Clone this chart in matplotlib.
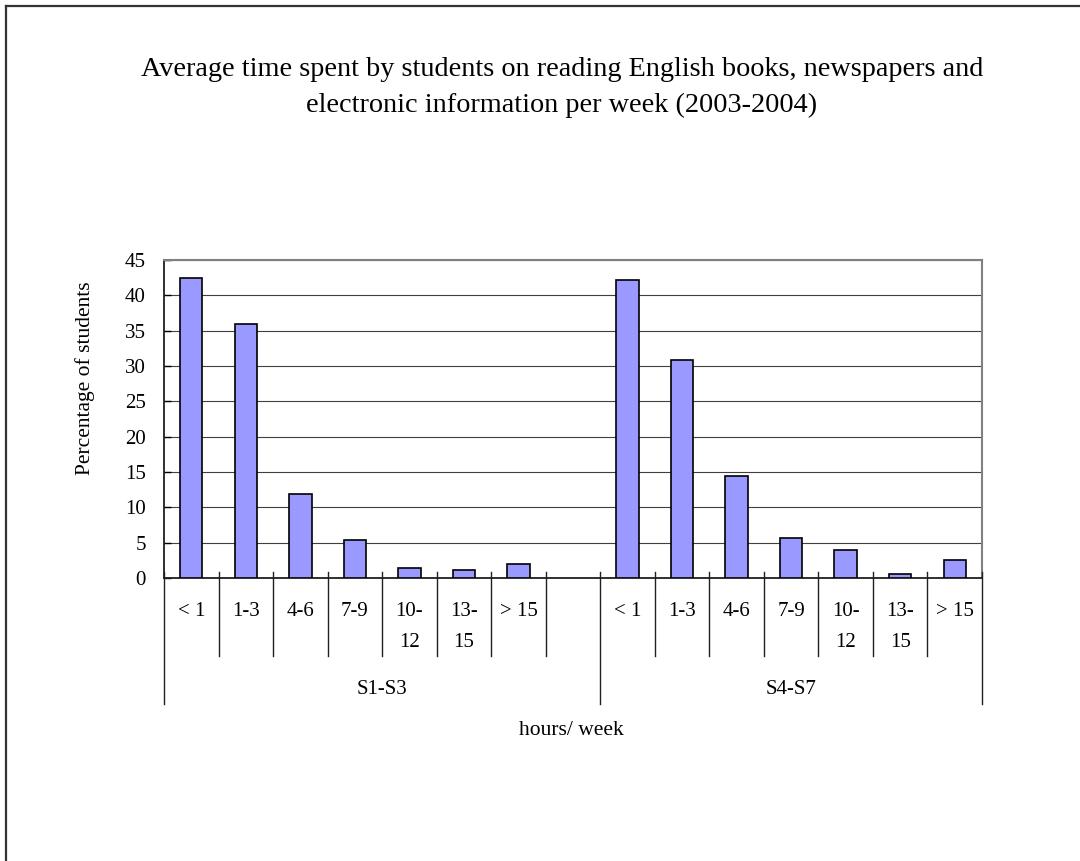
import matplotlib
matplotlib.use("Agg")
import matplotlib.pyplot as plt
from matplotlib.lines import Line2D
import matplotlib.transforms as mtransforms

# ---- data ----
categories = ["< 1", "1-3", "4-6", "7-9", "10-\n12", "13-\n15", "> 15"]
groups = ["S1-S3", "S4-S7"]
s1_s3 = [42.5, 36.0, 11.9, 5.4, 1.4, 1.1, 2.0]
s4_s7 = [42.2, 30.9, 14.4, 5.7, 4.0, 0.6, 2.5]
group_slots = [8, 7]  # S1-S3 group carries one empty trailing category
yticks = [0, 5, 10, 15, 20, 25, 30, 35, 40, 45]
title = ("Average time spent by students on reading English books, newspapers and\n"
         "electronic information per week (2003-2004)")
ylabel = "Percentage of students"
xlabel = "hours/ week"

plt.rcParams['font.family'] = ['Liberation Serif', 'DejaVu Serif']

W, H = 1080, 861
fig = plt.figure(figsize=(W / 100, H / 100), dpi=100)
fig.patch.set_facecolor("white")

def fx(px):
    return px / W

def fy(py):
    return 1 - py / H

ax_l, ax_r, ax_t, ax_b = 164, 982, 260, 578
ax = fig.add_axes([fx(ax_l), fy(ax_b), fx(ax_r) - fx(ax_l), fy(ax_t) - fy(ax_b)])
ax_h = ax_b - ax_t

def ay(py):
    # pixel y -> axes fraction
    return (ax_b - py) / ax_h

total_slots = sum(group_slots)
starts = [0, group_slots[0]]
series = [s1_s3, s4_s7]

bar_color = "#9999FF"
for g, vals in enumerate(series):
    xs = [starts[g] + i + 0.5 for i in range(len(vals))]
    ax.bar(xs, vals, width=0.41, color=bar_color, edgecolor="black",
           linewidth=1.2, zorder=3)

ax.set_xlim(0, total_slots)
ax.set_ylim(0, 45)
ax.set_yticks(yticks)
ax.yaxis.grid(True, color="#404040", linewidth=0.8, zorder=0)
ax.set_axisbelow(True)

ax.tick_params(axis="y", direction="in", length=5, width=1.0, color="black",
               labelsize=15, pad=13)
ax.tick_params(axis="x", length=0, labelsize=15, pad=17.5)

# category tick labels
tick_pos, tick_lab = [], []
for g in range(len(groups)):
    for i, c in enumerate(categories):
        tick_pos.append(starts[g] + i + 0.5)
        tick_lab.append(c)
ax.set_xticks(tick_pos)
ax.set_xticklabels(tick_lab, linespacing=1.8)

for s in ["top", "right"]:
    ax.spines[s].set_color("#808080")
    ax.spines[s].set_linewidth(1.5)
ax.spines["left"].set_color("#202020")
ax.spines["left"].set_linewidth(1.3)
ax.spines["bottom"].set_color("#202020")
ax.spines["bottom"].set_linewidth(1.3)

trans = mtransforms.blended_transform_factory(ax.transData, ax.transAxes)

# separators between categories
for g in range(len(groups)):
    for k in range(1, group_slots[g]):
        b = starts[g] + k
        ax.plot([b, b], [ay(572), ay(656)], color="#202020", linewidth=1.0,
                transform=trans, clip_on=False, zorder=4)
# separators between groups
bounds = [0, group_slots[0], total_slots]
for b in bounds:
    ax.plot([b, b], [ay(572), ay(704)], color="#202020", linewidth=1.0,
            transform=trans, clip_on=False, zorder=4)

# group labels
for g, name in enumerate(groups):
    cx = starts[g] + group_slots[g] / 2
    ax.text(cx, ay(690), name, transform=trans, ha="center", va="center",
            fontsize=15)

# axis titles
ax.text(0.5 - (0.5 * (ax_l + ax_r) - 571) / (ax_r - ax_l), ay(730), xlabel,
        transform=ax.transAxes, ha="center", va="center", fontsize=15.5)
ax.set_ylabel(ylabel, fontsize=15.5)
ax.yaxis.set_label_coords((95 - ax_l) / (ax_r - ax_l), ay(378))

fig.text(fx(562), fy(87.5), title, ha="center", va="center", fontsize=20.3,
         linespacing=1.55)

# outer border (left and top only visible)
fig.add_artist(Line2D([fx(6), fx(6)], [fy(5.5), 0], transform=fig.transFigure,
                      color="#333333", linewidth=1.6))
fig.add_artist(Line2D([fx(6), 1], [fy(5.5), fy(5.5)], transform=fig.transFigure,
                      color="#333333", linewidth=1.6))

fig.savefig("out.png", dpi=100, facecolor="white")
